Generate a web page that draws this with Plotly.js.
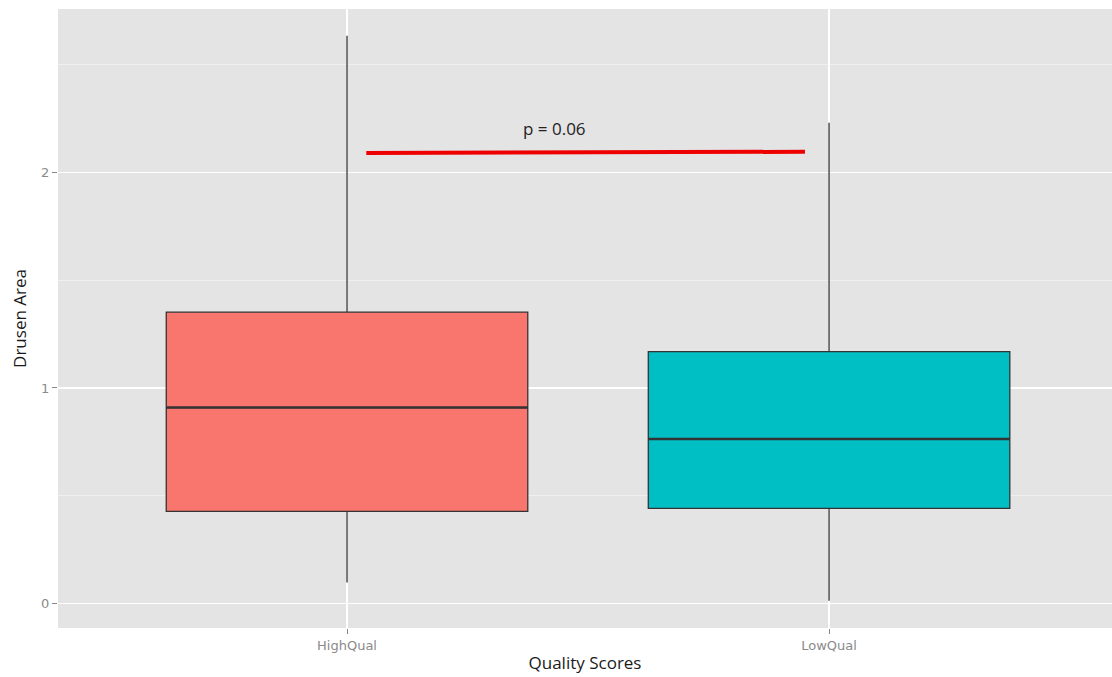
<!DOCTYPE html>
<html>
<head>
<meta charset="utf-8">
<script src="https://cdn.plot.ly/plotly-3.0.1.min.js"></script>
<style>
  html, body { margin: 0; padding: 0; background: #ffffff; }
  #chart { width: 1112px; height: 677px; }
</style>
</head>
<body>
<div id="chart"></div>
<script>
// Drusen area summary by image quality group
const groups      = ['HighQual', 'LowQual'];
const lowerWhisk  = [0.096, 0.011];
const q1          = [0.427, 0.441];
const medians     = [0.909, 0.763];
const q3          = [1.352, 1.169];
const upperWhisk  = [2.636, 2.232];
const fillColors  = ['#F8766D', '#00BFC4'];

// significance bar between the two groups
const pLineX = [0.04, 0.95];
const pLineY = [2.091, 2.097];
const pLabel = 'p = 0.06';
const pLabelPos = [0.43, 2.205];

const yTicks = [0, 1, 2];

const outline = '#333333';
const boxWidth = 0.75;
const tickFont = { family: 'DejaVu Sans', size: 13, color: '#8a8a8a' };
const titleFont = { family: 'Open Sans, sans-serif', size: 17, color: '#1a1a1a' };

const traces = groups.map((g, i) => ({
  type: 'box',
  x: [g],
  q1: [q1[i]],
  median: [medians[i]],
  q3: [q3[i]],
  lowerfence: [lowerWhisk[i]],
  upperfence: [upperWhisk[i]],
  boxpoints: false,
  width: boxWidth,
  whiskerwidth: 0,
  fillcolor: fillColors[i],
  line: { color: outline, width: 1.3 },
  hoverinfo: 'skip',
  showlegend: false
}));

// heavier median bars, as in ggplot's default box style
const medianShapes = medians.map((m, i) => ({
  type: 'line', xref: 'x', yref: 'y',
  x0: i - boxWidth / 2, x1: i + boxWidth / 2,
  y0: m, y1: m,
  line: { color: outline, width: 2.6 }
}));

const pShape = {
  type: 'line', xref: 'x', yref: 'y',
  x0: pLineX[0], x1: pLineX[1], y0: pLineY[0], y1: pLineY[1],
  line: { color: '#EE0000', width: 4 }
};

const layout = {
  width: 1112,
  height: 677,
  margin: { l: 58, r: 0, t: 9, b: 49 },
  paper_bgcolor: '#ffffff',
  plot_bgcolor: '#E4E4E4',
  boxmode: 'overlay',
  font: tickFont,
  xaxis: {
    type: 'category',
    categoryarray: groups,
    range: [-0.5996, 1.587],
    showgrid: true,
    gridcolor: '#ffffff',
    gridwidth: 1.4,
    zeroline: false,
    showline: false,
    ticks: 'outside',
    ticklen: 5,
    tickwidth: 1,
    tickcolor: '#888888',
    tickfont: tickFont,
    title: { text: 'Quality Scores', standoff: 5, font: titleFont }
  },
  yaxis: {
    range: [-0.115, 2.76],
    tickvals: yTicks,
    ticktext: yTicks.map(String),
    showgrid: true,
    gridcolor: '#ffffff',
    gridwidth: 1.4,
    minor: { dtick: 0.5, tick0: 0, showgrid: true, gridcolor: '#F2F2F2', gridwidth: 0.8, ticks: '' },
    zeroline: false,
    showline: false,
    ticks: 'outside',
    ticklen: 5,
    tickwidth: 1,
    tickcolor: '#888888',
    tickfont: tickFont,
    title: { text: 'Drusen Area', standoff: 10, font: titleFont }
  },
  shapes: medianShapes.concat([pShape]),
  annotations: [{
    x: pLabelPos[0], y: pLabelPos[1], xref: 'x', yref: 'y',
    text: pLabel, showarrow: false,
    font: { family: 'Open Sans, sans-serif', size: 17, color: '#222222' }
  }]
};

Plotly.newPlot('chart', traces, layout, { displayModeBar: false, staticPlot: true });
</script>
</body>
</html>
